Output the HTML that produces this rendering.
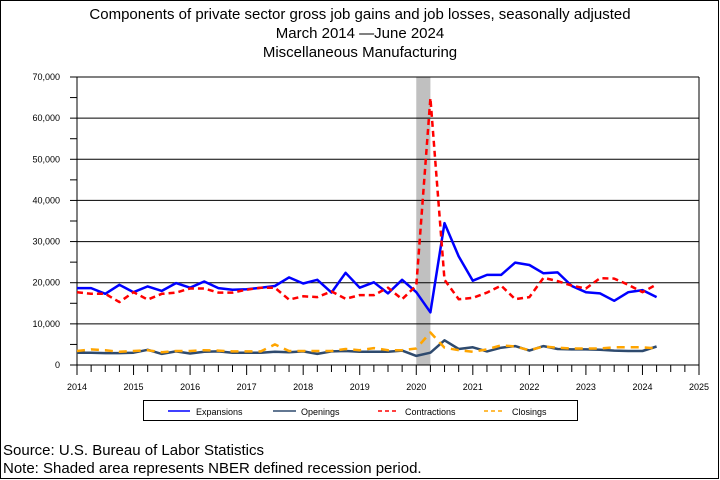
<!DOCTYPE html>
<html><head><meta charset="utf-8"><style>
body{margin:0;background:#fff}
svg{display:block;font-family:"Liberation Sans",Arial,sans-serif}
</style></head><body>
<svg id="chart" width="720" height="480" viewBox="0 0 720 480" xmlns="http://www.w3.org/2000/svg">
<rect x="0.5" y="0.5" width="718" height="478" fill="#fff" stroke="#000"/>
<text x="360" y="19" font-size="15" text-anchor="middle">Components of private sector gross job gains and job losses, seasonally adjusted</text>
<text x="360" y="38" font-size="15" text-anchor="middle">March 2014  —June 2024</text>
<text x="360" y="57" font-size="15" text-anchor="middle">Miscellaneous Manufacturing</text>
<g id="plot"></g>
<g>
<rect x="143.5" y="400.5" width="434" height="20" fill="none" stroke="#000"/>
<line x1="168" y1="411" x2="190" y2="411" stroke="#0000ff" stroke-width="1.5"/>
<text x="196" y="415" font-size="9">Expansions</text>
<line x1="273" y1="411" x2="296" y2="411" stroke="#2e4a6e" stroke-width="1.5"/>
<text x="301" y="415" font-size="9">Openings</text>
<line x1="378" y1="411" x2="399" y2="411" stroke="#ff0000" stroke-width="1.5" stroke-dasharray="4,3"/>
<text x="405" y="415" font-size="9">Contractions</text>
<line x1="484" y1="411" x2="505" y2="411" stroke="#ffa500" stroke-width="1.5" stroke-dasharray="4,3"/>
<text x="512" y="415" font-size="9">Closings</text>
</g>
<text x="3" y="455" font-size="15">Source: U.S. Bureau of Labor Statistics</text>
<text x="3" y="473" font-size="15">Note: Shaded area represents NBER defined recession period.</text>
</svg>
<script>
const startYear = 2014;
const expansions = [18.7,18.7,17.3,19.5,17.7,19.1,18.0,19.9,18.8,20.3,18.7,18.3,18.4,18.8,19.2,21.3,19.8,20.7,17.6,22.4,18.8,20.1,17.4,20.7,17.7,12.8,34.5,26.4,20.5,21.9,21.9,24.9,24.3,22.3,22.5,19.2,17.7,17.4,15.6,17.7,18.2,16.5];
const openings = [3.0,3.0,2.9,2.9,3.0,3.7,2.7,3.3,2.8,3.2,3.3,3.0,3.0,3.0,3.2,3.1,3.3,2.7,3.3,3.4,3.2,3.2,3.2,3.5,2.2,3.0,6.0,3.9,4.3,3.3,4.2,4.6,3.5,4.6,3.9,3.8,3.8,3.7,3.5,3.4,3.4,4.5];
const contractions = [17.7,17.3,17.3,15.3,17.7,15.9,17.3,17.6,18.6,18.6,17.6,17.6,18.3,18.8,18.8,15.9,16.7,16.5,17.9,16.1,17.0,17.0,18.8,16.0,19.3,64.9,20.7,16.0,16.3,17.6,19.3,16.0,16.5,21.2,20.4,19.3,18.6,21.1,21.0,19.5,17.7,19.6];
const closings = [3.4,3.8,3.6,3.2,3.4,3.6,3.1,3.4,3.4,3.6,3.5,3.3,3.3,3.3,5.0,3.4,3.4,3.4,3.4,3.9,3.6,4.1,3.6,3.6,4.0,7.9,4.2,3.6,3.2,3.8,4.8,4.5,3.6,4.5,4.2,4.0,4.0,4.0,4.3,4.3,4.3,4.0];
const yTicks = [0,10000,20000,30000,40000,50000,60000,70000];
const yTickLabels = ["0","10,000","20,000","30,000","40,000","50,000","60,000","70,000"];
const xYears = [2014,2015,2016,2017,2018,2019,2020,2021,2022,2023,2024,2025];
const recession = [2020.0,2020.25];

const X0=77,X1=699,Y0=365,Y1=77;
const xs = t => X0 + (t-2014)/(2025-2014)*(X1-X0);
const ys = v => Y0 - v/70000*(Y0-Y1);
const NS="http://www.w3.org/2000/svg";
const g=document.getElementById('plot');
function mk(tag,attrs){const e=document.createElementNS(NS,tag);for(const k in attrs)e.setAttribute(k,attrs[k]);g.appendChild(e);return e;}

const rec=mk('rect',{x:xs(recession[0]),y:Y1,width:xs(recession[1])-xs(recession[0]),height:Y0-Y1,fill:'#c0c0c0'});



yTicks.forEach((v,i)=>{
  const l=mk('line',{x1:X0,x2:X1,y1:ys(v),y2:ys(v),stroke:'#000','stroke-width':1});
  
  
  const t=mk('text',{x:X0-17,y:ys(v)+3,'font-size':9,'text-anchor':'end'});
  t.textContent=yTickLabels[i];
  
  
  mk('line',{x1:X0-7,x2:X0,y1:ys(v),y2:ys(v),stroke:'#000'});
  if(i<yTicks.length-1) mk('line',{x1:X0-7,x2:X0,y1:ys(v+5000),y2:ys(v+5000),stroke:'#000'});
});
mk('line',{x1:X0,x2:X0,y1:Y1,y2:Y0,stroke:'#000'});
mk('line',{x1:X1,x2:X1,y1:Y1,y2:Y0,stroke:'#000'});
for(let q=0;q<=44;q++){
  const x=xs(2014+q/4);
  mk('line',{x1:x,x2:x,y1:Y0,y2:Y0+(q%4==0?10:7),stroke:'#000'});
}
xYears.forEach(y=>{
  const t=mk('text',{x:xs(y),y:Y0+25,'font-size':9,'text-anchor':'middle'});
  t.textContent=y;
  
  
});
function series(arr,color,dash,name){
  const pts=arr.map((v,i)=>xs(startYear+i/4).toFixed(1)+','+ys(v*1000).toFixed(1)).join(' ');
  const p=mk('polyline',{points:pts,fill:'none',stroke:color,'stroke-width':2.5,'stroke-linejoin':'round'});
  if(dash)p.setAttribute('stroke-dasharray',dash);
  
  
}
series(openings,'#2e4a6e',null,'openings-line');
series(closings,'#ffa500','8,6','closings-line');
series(expansions,'#0000ff',null,'expansions-line');
series(contractions,'#ff0000','6,4','contractions-line');
</script>
</body></html>
